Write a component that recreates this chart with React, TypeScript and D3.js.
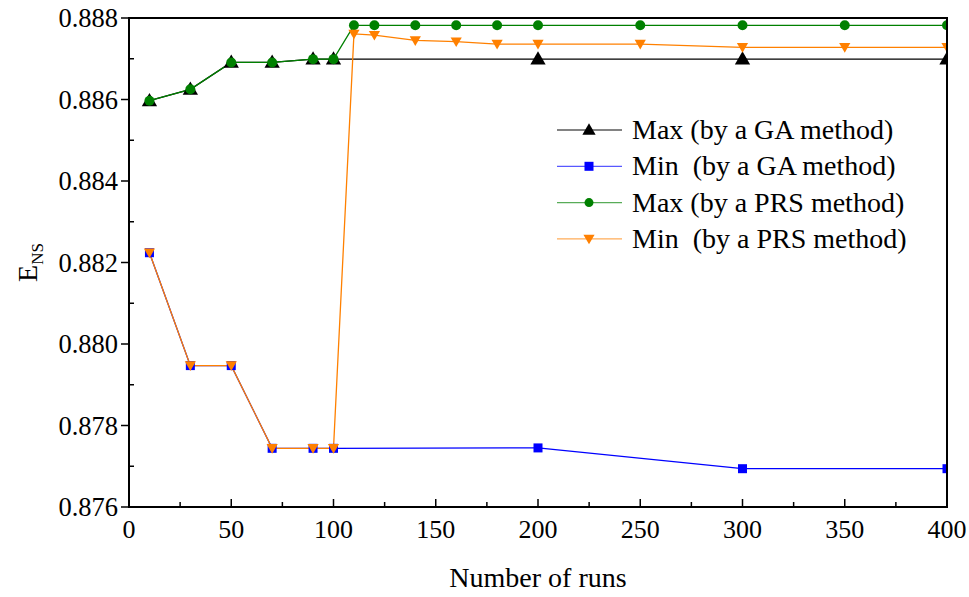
import React from 'react';
import * as d3 from 'd3';

// runs on the x axis
const runsGA = [10, 30, 50, 70, 90, 100, 200, 300, 400];
const runsPRS = [10, 30, 50, 70, 90, 100, 110, 120, 140, 160, 180, 200, 250, 300, 350, 400];

// E_NS values
const maxGA = [0.88597, 0.88625, 0.88691, 0.88691, 0.88699, 0.88699, 0.88699, 0.88699, 0.88699];
const minGA = [0.88224, 0.87947, 0.87947, 0.87744, 0.87744, 0.87744, 0.87745, 0.87694, 0.87694];
const maxPRS = [0.88597, 0.88625, 0.88691, 0.88691, 0.88699, 0.88699, 0.88782, 0.88782, 0.88782, 0.88782, 0.88782, 0.88782, 0.88782, 0.88782, 0.88782, 0.88782];
const minPRS = [0.88224, 0.87947, 0.87947, 0.87744, 0.87744, 0.87744, 0.88761, 0.88758, 0.88745, 0.88742, 0.88736, 0.88736, 0.88736, 0.88728, 0.88728, 0.88728];

const xTicks = [0, 50, 100, 150, 200, 250, 300, 350, 400];
const yTicks = [0.876, 0.878, 0.88, 0.882, 0.884, 0.886, 0.888];

const legendLabels = ['Max (by a GA method)', 'Min  (by a GA method)', 'Max (by a PRS method)', 'Min  (by a PRS method)'];

const W = 969;
const H = 597;
const margin = { top: 18, right: 22, bottom: 90, left: 129 };
const font = "'Liberation Serif', 'Times New Roman', serif";

const x = d3.scaleLinear().domain([0, 400]).range([margin.left, W - margin.right]);
const y = d3.scaleLinear().domain([0.876, 0.888]).range([H - margin.bottom, margin.top]);

const BLACK = '#000000';
const BLUE = '#0000ff';
const GREEN = '#008000';
const ORANGE = '#ff8000';

type Pt = [number, number];
const zip = (xs: number[], ys: number[]): Pt[] => xs.map((v, i) => [v, ys[i]]);

const line = d3.line<Pt>().x(d => x(d[0])).y(d => y(d[1]));

const tri = d3.symbol().type(d3.symbolTriangle);

const Marker = ({ kind, cx, cy, color, size }: { kind: string; cx: number; cy: number; color: string; size: number }) => {
  if (kind === 'circle') return <circle cx={cx} cy={cy} r={size / 2} fill={color} />;
  if (kind === 'square') return <rect x={cx - size / 2} y={cy - size / 2} width={size} height={size} fill={color} />;
  if (kind === 'up') return <path d={tri.size(size * size * 0.45)() || ''} transform={`translate(${cx},${cy + 1})`} fill={color} />;
  return <path d={tri.size(size * size * 0.45)() || ''} transform={`translate(${cx},${cy - 1}) rotate(180)`} fill={color} />;
};

const series = [
  { data: zip(runsGA, maxGA), color: BLACK, kind: 'up', size: 15 },
  { data: zip(runsGA, minGA), color: BLUE, kind: 'square', size: 9 },
  { data: zip(runsPRS, maxPRS), color: GREEN, kind: 'circle', size: 10 },
  { data: zip(runsPRS, minPRS), color: ORANGE, kind: 'down', size: 11 },
];

const legendMarkSize = [13, 9, 9, 11];

const txt = (size: number): React.CSSProperties => ({ fontFamily: font, fontSize: size, whiteSpace: 'pre' });

export default function App() {
  const x0 = margin.left;
  const x1 = W - margin.right;
  const y0 = H - margin.bottom;
  const y1 = margin.top;
  const xMinor = d3.range(25, 400, 50);
  const yMinor = d3.range(0.877, 0.888, 0.002);

  return (
    <svg width={W} height={H} style={{ position: 'absolute', left: 0, top: 0, background: '#fff' }}>
      <defs>
        <clipPath id="plot">
          <rect x={x0} y={y1} width={x1 - x0} height={y0 - y1} />
        </clipPath>
      </defs>

      {/* series lines */}
      <g clipPath="url(#plot)" fill="none">
        {series.map((s, i) => (
          <path key={i} d={line(s.data) || ''} stroke={s.color} strokeWidth={1.3} fill="none" />
        ))}
      </g>

      {/* markers */}
      <g clipPath="url(#plot)">
        {series.map((s, i) =>
          s.data.map((d, j) => (
            <Marker key={`${i}-${j}`} kind={s.kind} cx={x(d[0])} cy={y(d[1])} color={s.color} size={s.size} />
          ))
        )}
      </g>

      {/* frame */}
      <rect x={x0} y={y1} width={x1 - x0} height={y0 - y1} fill="none" stroke="#000" strokeWidth={2} />

      {/* x ticks (inward) */}
      {xTicks.map(t => (
        <line key={`xt${t}`} x1={x(t)} x2={x(t)} y1={y0} y2={y0 - 8} stroke="#000" strokeWidth={1.5} />
      ))}
      {xMinor.map(t => (
        <line key={`xm${t}`} x1={x(t)} x2={x(t)} y1={y0} y2={y0 - 5} stroke="#000" strokeWidth={1.5} />
      ))}
      {xTicks.map(t => (
        <text key={`xl${t}`} x={x(t)} y={y0 + 31} textAnchor="middle" style={txt(26)}>
          {t}
        </text>
      ))}

      {/* y ticks (major outward, minor inward) */}
      {yTicks.map(t => (
        <line key={`yt${t}`} x1={x0} x2={x0 - 8} y1={y(t)} y2={y(t)} stroke="#000" strokeWidth={1.5} />
      ))}
      {yMinor.map(t => (
        <line key={`ym${t}`} x1={x0} x2={x0 + 5} y1={y(t)} y2={y(t)} stroke="#000" strokeWidth={1.5} />
      ))}
      {yTicks.map(t => (
        <text key={`yl${t}`} x={x0 - 11} y={y(t) + 9} textAnchor="end" style={txt(26.5)}>
          {d3.format('.3f')(t)}
        </text>
      ))}

      {/* axis titles */}
      <text x={(x0 + x1) / 2} y={587} textAnchor="middle" style={txt(28)}>
        Number of runs
      </text>
      <text transform={`translate(37, ${(y0 + y1) / 2}) rotate(-90)`} textAnchor="middle" style={txt(28)}>
        E<tspan fontSize={17} dy={6}>NS</tspan>
      </text>

      {/* legend */}
      {legendLabels.map((lab, i) => {
        const ly = 130 + i * 36.3;
        const s = series[i];
        return (
          <g key={lab}>
            <line x1={557} x2={622} y1={ly} y2={ly} stroke={s.color} strokeWidth={1.3} opacity={0.65} />
            <Marker kind={s.kind} cx={589} cy={ly} color={s.color} size={legendMarkSize[i]} />
            <text x={632} y={ly + 9} style={txt(28)}>
              {lab}
            </text>
          </g>
        );
      })}
    </svg>
  );
}
